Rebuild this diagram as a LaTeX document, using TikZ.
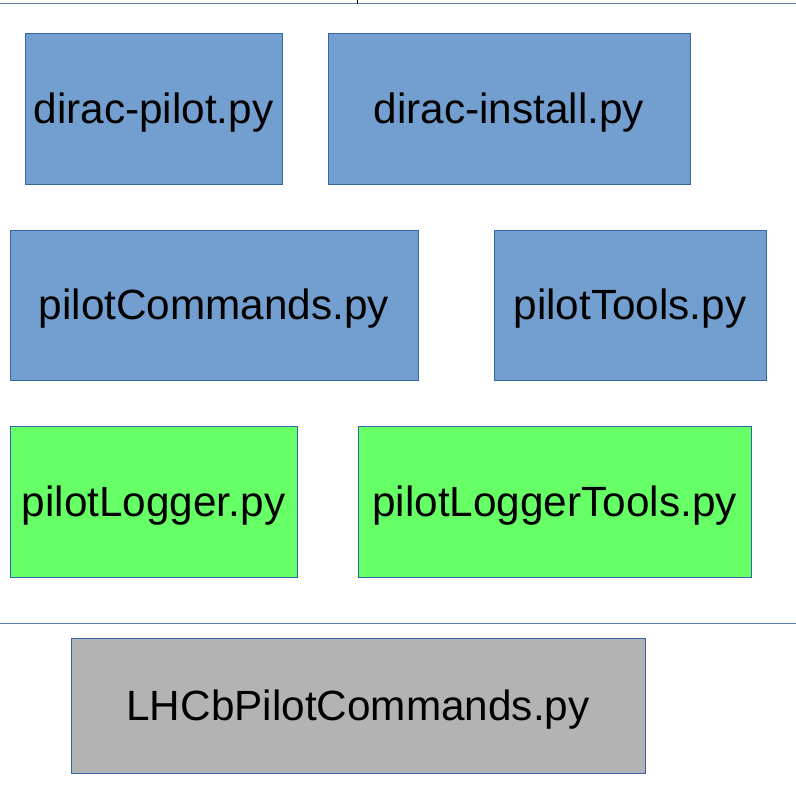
\documentclass[tikz,border=0pt]{standalone}
\usepackage{fontspec}
\setmainfont{Liberation Sans}
\definecolor{fileblue}{HTML}{729FCF}
\definecolor{filegreen}{HTML}{66FF66}
\definecolor{filegray}{HTML}{B3B3B3}
\definecolor{edgeblue}{HTML}{3465A4}
\begin{document}
\begin{tikzpicture}[x=1pt, y=-1pt,
	pyfile/.style={draw=edgeblue, line width=0.8pt, inner sep=0pt, outer sep=0pt,
		font=\fontsize{42.3}{50}\selectfont, text=black,
		text height=38.3pt, text depth=9pt},
	bluefile/.style={pyfile, fill=fileblue},
	greenfile/.style={pyfile, fill=filegreen},
	grayfile/.style={pyfile, fill=filegray}]
		\useasboundingbox (0,0) rectangle (796,787);
		
		% 分隔线
		\draw[edgeblue!80, line width=1pt] (0,3) -- (796,3);
		\draw[edgeblue!80, line width=1pt] (0,623) -- (796,623);
		\draw[black, line width=1pt] (357,0) -- (357,3.5);
		
		% 第一行
		\node[bluefile, minimum width=257pt, minimum height=151pt] (diracpilot) at (153.5,108.5) {dirac-pilot.py};
		\node[bluefile, minimum width=362pt, minimum height=151pt] (diracinstall) at (509,108.5) {dirac-install.py};
		
		% 第二行
		\node[bluefile, minimum width=408pt, minimum height=150pt] (pilotcommands) at (214,305) {pilotCommands.py};
		\node[bluefile, minimum width=272pt, minimum height=150pt] (pilottools) at (630,305) {pilotTools.py};
		
		% 日志模块
		\node[greenfile, minimum width=287pt, minimum height=151pt] (pilotlogger) at (153.5,501.5) {pilotLogger.py};
		\node[greenfile, minimum width=393pt, minimum height=151pt] (loggertools) at (554.5,501.5) {pilotLoggerTools.py};
		
		% LHCb 扩展
		\node[grayfile, minimum width=574pt, minimum height=135pt] (lhcbcommands) at (358,705.5) {LHCbPilotCommands.py};
	\end{tikzpicture}
\end{document}
